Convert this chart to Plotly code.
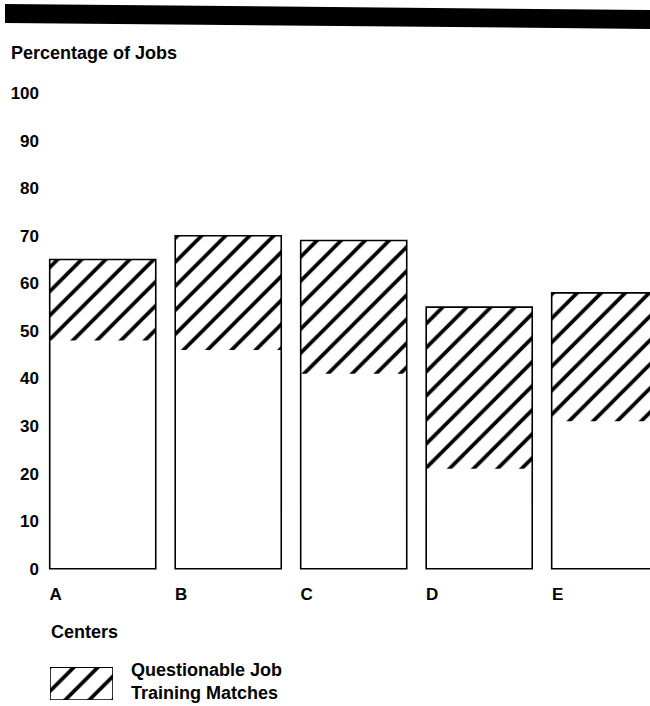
import plotly.graph_objects as go

centers = ["A", "B", "C", "D", "E"]
total_pct = [65, 70, 69, 55, 58]          # top of each bar
matched_pct = [48, 46, 41, 21, 31]        # plain (unhatched) lower part
questionable_pct = [t - m for t, m in zip(total_pct, matched_pct)]
y_ticks = [0, 10, 20, 30, 40, 50, 60, 70, 80, 90, 100]
legend_label = "Questionable Job<br>Training Matches"
y_title = "Percentage of Jobs"
x_title = "Centers"

FONT = "Liberation Sans, Arial, Helvetica, sans-serif"
W, H = 650, 706

def px(v):
    return v / W

def py(v):
    return (H - v) / H

fig = go.Figure()

# hatched questionable portion (no outline)
fig.add_trace(go.Bar(
    x=centers, y=questionable_pct, base=matched_pct, width=0.845,
    marker=dict(color="white", line=dict(width=0),
                pattern=dict(shape="/", size=17, solidity=0.22,
                             fgcolor="black", bgcolor="white", fillmode="replace")),
    showlegend=False, hoverinfo="skip", xaxis="x", yaxis="y",
))
# outline of whole bar
fig.add_trace(go.Bar(
    x=centers, y=total_pct, width=0.845,
    marker=dict(color="rgba(0,0,0,0)", line=dict(color="black", width=1.6)),
    showlegend=False, xaxis="x", yaxis="y",
))
# legend swatch
fig.add_trace(go.Bar(
    x=[0], y=[1], width=1,
    marker=dict(color="white", line=dict(color="black", width=1.6),
                pattern=dict(shape="/", size=17, solidity=0.22,
                             fgcolor="black", bgcolor="white", fillmode="replace")),
    showlegend=False, hoverinfo="skip", xaxis="x2", yaxis="y2", cliponaxis=False,
))

fig.update_layout(
    width=W, height=H,
    margin=dict(l=0, r=0, t=0, b=0),
    paper_bgcolor="white", plot_bgcolor="white",
    barmode="overlay",
    font=dict(family=FONT, size=17, color="black"),
    xaxis=dict(domain=[px(45), 1.0], range=[-0.46, 4.361],
               showgrid=False, zeroline=False, showline=False, ticks="",
               tickfont=dict(family=FONT, size=17, color="black", weight="bold"),
               ticklabelshift=-47, ticklabelstandoff=6),
    yaxis=dict(domain=[py(578), py(80)], range=[-1.6, 102.8],
               tickvals=y_ticks, showgrid=False, zeroline=False, showline=False, ticks="",
               tickfont=dict(family=FONT, size=17, color="black", weight="bold"),
               ticklabelstandoff=5),
    xaxis2=dict(domain=[px(50), px(113)], range=[-0.5, 0.5], visible=False, anchor="y2"),
    yaxis2=dict(domain=[py(702), py(669)], range=[0, 1], visible=False, anchor="x2"),
    shapes=[dict(type="path", xref="paper", yref="paper",
                 path=f"M {px(5)} {py(4)} L {px(650)} {py(10)} L {px(650)} {py(29)} L {px(5)} {py(23)} Z",
                 fillcolor="black", line=dict(width=0))],
    annotations=[
        dict(text=f"<b>{y_title}</b>", xref="paper", yref="paper", x=px(9), y=py(53),
             xanchor="left", yanchor="middle", showarrow=False, font=dict(size=18)),
        dict(text=f"<b>{x_title}</b>", xref="paper", yref="paper", x=px(49), y=py(634),
             xanchor="left", yanchor="middle", showarrow=False, font=dict(size=18)),
        dict(text=f"<b>{legend_label}</b>", xref="paper", yref="paper", x=px(129), y=py(683),
             xanchor="left", yanchor="middle", align="left", showarrow=False,
             font=dict(size=18)),
    ],
)

fig.write_html(
    "out.html",
    config={"displayModeBar": False},
    post_script="document.body.style.margin='0';document.body.style.overflow='hidden';",
)
